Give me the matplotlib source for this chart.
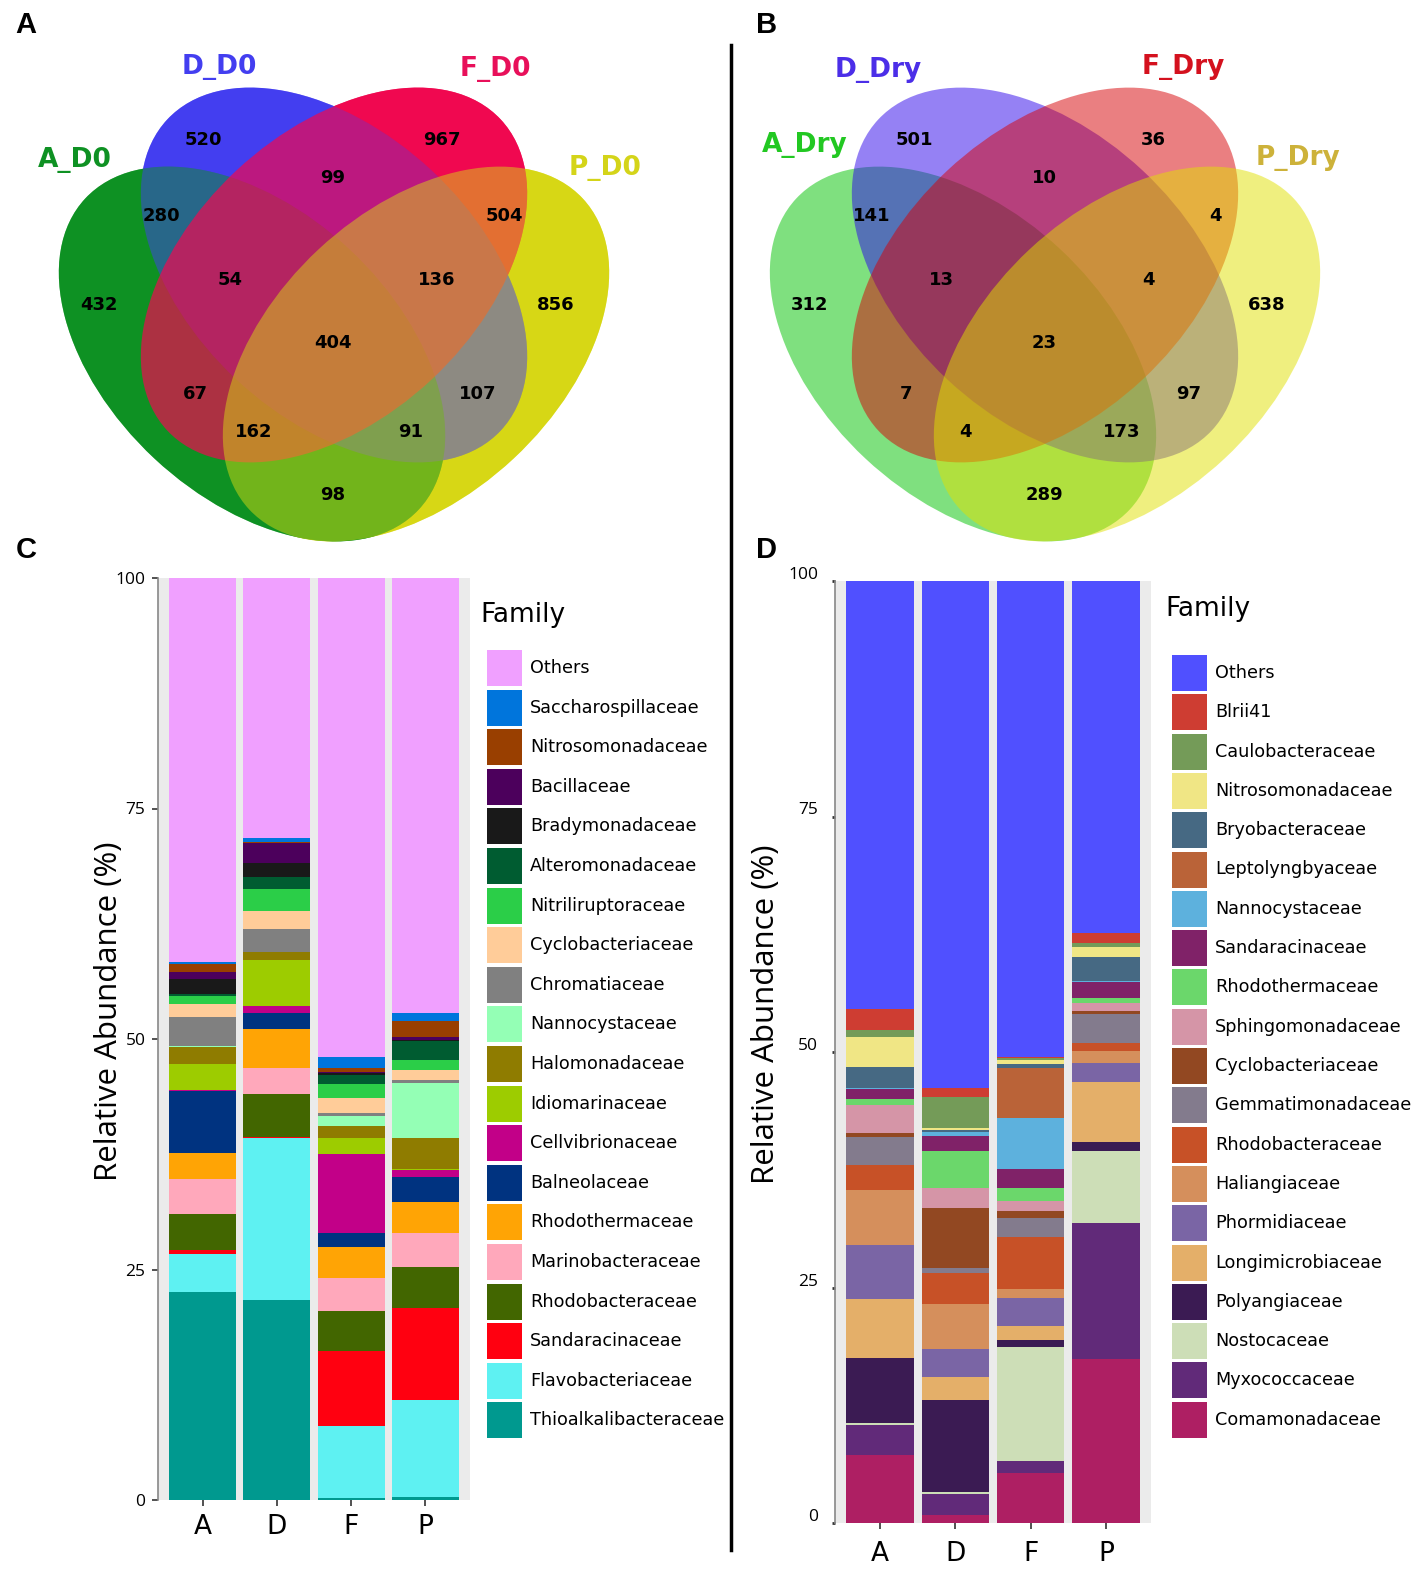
import matplotlib
matplotlib.use("Agg")
import matplotlib.pyplot as plt
from matplotlib.patches import Ellipse, Rectangle
from matplotlib.transforms import ScaledTranslation

W, H = 1418, 1569

# ---------------- Venn data ----------------
venn_a_sets = ["A_D0", "D_D0", "F_D0", "P_D0"]
venn_a_counts = [432, 520, 967, 856, 280, 99, 504, 98, 54, 136, 67, 107, 162, 91, 404]
venn_b_sets = ["A_Dry", "D_Dry", "F_Dry", "P_Dry"]
venn_b_counts = [312, 501, 36, 638, 141, 10, 4, 289, 13, 4, 7, 97, 4, 173, 23]

# ---------------- Panel C (day 0) ----------------
samples = ["A", "D", "F", "P"]
families_c = ["Thioalkalibacteraceae", "Flavobacteriaceae", "Sandaracinaceae", "Rhodobacteraceae",
              "Marinobacteraceae", "Rhodothermaceae", "Balneolaceae", "Cellvibrionaceae",
              "Idiomarinaceae", "Halomonadaceae", "Nannocystaceae", "Chromatiaceae",
              "Cyclobacteriaceae", "Nitriliruptoraceae", "Alteromonadaceae", "Bradymonadaceae",
              "Bacillaceae", "Nitrosomonadaceae", "Saccharospillaceae", "Others"]
colors_c = ["#00998F", "#5EF1F2", "#FF0010", "#426600", "#FFA8BB", "#FFA405", "#003380", "#C20088",
            "#9DCC00", "#8F7C00", "#94FFB5", "#808080", "#FFCC99", "#2BCE48", "#005C31", "#191919",
            "#4C005C", "#993F00", "#0075DC", "#F0A0FF"]
c_A = [22.6, 4.1, 0.4, 3.9, 3.8, 2.8, 6.8, 0.1, 2.8, 1.8, 0.1, 3.2, 1.4, 0.9, 0.2, 1.6, 0.8, 0.8, 0.3, 41.6]
c_D = [21.7, 17.6, 0.1, 4.6, 2.9, 4.2, 1.7, 0.8, 5.0, 0.8, 0.0, 2.5, 2.0, 2.4, 1.3, 1.5, 2.2, 0.1, 0.4, 28.2]
c_F = [0.2, 7.8, 8.2, 4.3, 3.6, 3.3, 1.6, 8.5, 1.8, 1.3, 1.1, 0.3, 1.6, 1.5, 1.0, 0.2, 0.1, 0.5, 1.2, 51.9]
c_P = [0.3, 10.6, 9.9, 4.5, 3.7, 3.3, 2.7, 0.8, 0.1, 3.4, 5.9, 0.3, 1.1, 1.1, 2.1, 0.1, 0.3, 1.8, 0.8, 47.2]

# ---------------- Panel D (dry) ----------------
families_d = ["Comamonadaceae", "Myxococcaceae", "Nostocaceae", "Polyangiaceae", "Longimicrobiaceae",
              "Phormidiaceae", "Haliangiaceae", "Rhodobacteraceae", "Gemmatimonadaceae",
              "Cyclobacteriaceae", "Sphingomonadaceae", "Rhodothermaceae", "Sandaracinaceae",
              "Nannocystaceae", "Leptolyngbyaceae", "Bryobacteraceae", "Nitrosomonadaceae",
              "Caulobacteraceae", "Blrii41", "Others"]
colors_d = ["#AE1F63", "#612A79", "#CDDEB7", "#3B1B53", "#E4AF69", "#7A65A5", "#D58F5C", "#C75127",
            "#837B8D", "#924822", "#D595A7", "#6BD76B", "#802268", "#5DB1DD", "#BA6338", "#466983",
            "#F0E685", "#749B58", "#CE3D32", "#5050FF"]
d_A = [7.2, 3.2, 0.2, 6.9, 6.3, 5.7, 5.9, 2.6, 3.0, 0.4, 3.0, 0.6, 1.1, 0.1, 0.0, 2.2, 3.2, 0.7, 2.3, 45.4]
d_D = [0.85, 2.2, 0.2, 9.8, 2.5, 2.9, 4.8, 3.3, 0.5, 6.4, 2.1, 3.9, 1.6, 0.5, 0.0, 0.15, 0.2, 3.3, 1.0, 53.75]
d_F = [5.3, 1.3, 12.1, 0.7, 1.5, 3.0, 0.9, 5.6, 2.0, 0.7, 1.1, 1.4, 2.0, 5.4, 5.3, 0.4, 0.5, 0.2, 0.1, 50.5]
d_P = [17.4, 14.4, 7.7, 0.9, 6.4, 2.0, 1.3, 0.9, 3.0, 0.3, 0.9, 0.5, 1.7, 0.1, 0.0, 2.6, 1.0, 0.5, 1.0, 37.4]

fig = plt.figure(figsize=(W / 100, H / 100), dpi=100)


def stacked(ax, values, colors):
    x = list(range(1, len(samples) + 1))
    bottom = [0.0] * len(samples)
    for i, col in enumerate(colors):
        seg = [v[i] for v in values]
        ax.bar(x, seg, bottom=bottom, width=0.9, color=col, linewidth=0, zorder=2)
        bottom = [b + s for b, s in zip(bottom, seg)]
    ax.set_xlim(0.4, 4.6)
    ax.set_ylim(0, 100)
    ax.set_facecolor("#EBEBEB")
    ax.set_xticks(x)
    ax.set_xticklabels(samples, fontsize=19, family="DejaVu Sans")
    ax.set_yticks([0, 25, 50, 75, 100])
    ax.set_yticklabels(["0", "25", "50", "75", "100"], fontsize=12.5, family="Open Sans")
    for s in ["top", "right", "bottom"]:
        ax.spines[s].set_visible(False)
    ax.spines["left"].set_color("#888888")
    ax.spines["left"].set_linewidth(1.2)
    ax.set_ylabel("Relative Abundance (%)", fontsize=22.5, family="Open Sans")


# panel C
axc = fig.add_axes([158 / W, 1 - 1500 / H, 312 / W, 922 / H])
stacked(axc, [c_A, c_D, c_F, c_P], colors_c)
axc.tick_params(axis="both", length=4, color="#333333", width=1.2)
axc.tick_params(axis="y", pad=5)
axc.tick_params(axis="x", pad=6)
axc.yaxis.set_label_coords(-0.11, 0.53)

# panel D
axd = fig.add_axes([835 / W, 1 - 1523 / H, 316 / W, 942 / H])
stacked(axd, [d_A, d_D, d_F, d_P], colors_d)
axd.tick_params(axis="y", length=2, color="#333333", width=2, pad=10)
axd.tick_params(axis="x", length=4, color="#333333", width=1.2, pad=9)
axd.yaxis.set_label_coords(-0.17, 0.54)
for lab in axd.get_yticklabels():
    lab.set_transform(lab.get_transform() + ScaledTranslation(0, 8 / 100, fig.dpi_scale_trans))

# overlay (pixel coordinates, y down) for venns, texts, legends
ov = fig.add_axes([0, 0, 1, 1])
ov.set_xlim(0, W)
ov.set_ylim(H, 0)
ov.axis("off")

# ellipse layout relative to venn centre x: (dx, y, semi-major, semi-minor, angle)
ell_geom = [(-82, 354, 228, 143, 43), (0, 275, 228, 143, 43),
            (0, 275, 228, 143, -43), (82, 354, 228, 143, -43)]


def venn_fill(cx, fills, alphas, base=False):
    if base:
        for (dx, y, a, b, r), col in reversed(list(zip(ell_geom, fills))):
            ov.add_patch(Ellipse((cx + dx, y), 2 * a, 2 * b, angle=r, facecolor=col,
                                 edgecolor="none", zorder=1))
    for (dx, y, a, b, r), col, al in zip(ell_geom, fills, alphas):
        ov.add_patch(Ellipse((cx + dx, y), 2 * a, 2 * b, angle=r, facecolor=col,
                             edgecolor="none", alpha=al, zorder=2))


venn_fill(334, ["#0E9123", "#433EF0", "#F00850", "#D7D715"], [0.5, 0.5, 0.7, 0.5], base=True)
venn_fill(1045, ["#00C300", "#2D05EB", "#D70005", "#E1E100"], [0.5, 0.5, 0.5, 0.5])

reg_dx = [-234, -130, 109, 223, -172, 0, 171, 0, -103, 104, -138, 145, -79, 78, 0]
reg_y = [305, 140, 140, 305, 216, 178, 216, 495, 280, 280, 394, 394, 432, 432, 343]


def venn_text(cx, counts, names, name_pos, name_cols):
    for n, dx, y in zip(counts, reg_dx, reg_y):
        ov.text(cx + dx, y, str(n), ha="center", va="center", fontsize=13,
                family="Liberation Sans Narrow", fontweight="bold", zorder=5)
    for nm, (x, y), col in zip(names, name_pos, name_cols):
        ov.text(x, y, nm, ha="center", va="center", fontsize=19,
                family="Liberation Sans Narrow", fontweight="bold", color=col, zorder=5)


venn_text(333, venn_a_counts, venn_a_sets, [(75, 160), (219, 67), (495, 69), (605, 168)],
          ["#0E9123", "#433EF0", "#E8105A", "#D4D419"])
venn_text(1044, venn_b_counts, venn_b_sets, [(805, 145), (878, 70), (1183, 67), (1298, 158)],
          ["#22C822", "#4B2EE8", "#D4111E", "#CDB23A"])

# panel letters
for letter, (x, y) in zip("ABCD", [(26, 25), (767, 25), (26, 550), (767, 550)]):
    ov.text(x, y, letter, ha="center", va="center", fontsize=21, fontweight="bold",
            family="Liberation Sans")

# separator
ov.plot([731, 731], [45, 1550], color="black", lw=2.5)


def legend(x0, ytitle, y0, pitch, names, colors):
    ov.text(x0 - 7, ytitle, "Family", ha="left", va="center", fontsize=19, family="DejaVu Sans")
    for i, (nm, col) in enumerate(zip(reversed(names), reversed(colors))):
        yc = y0 + i * pitch
        ov.add_patch(Rectangle((x0, yc - 18), 35, 36, facecolor=col, edgecolor="none"))
        ov.text(x0 + 43, yc, nm, ha="left", va="center", fontsize=12.7, family="DejaVu Sans")


legend(487, 615, 668, 39.6, families_c, colors_c)
legend(1172, 609, 673, 39.3, families_d, colors_d)

fig.savefig("out.png", dpi=100)
